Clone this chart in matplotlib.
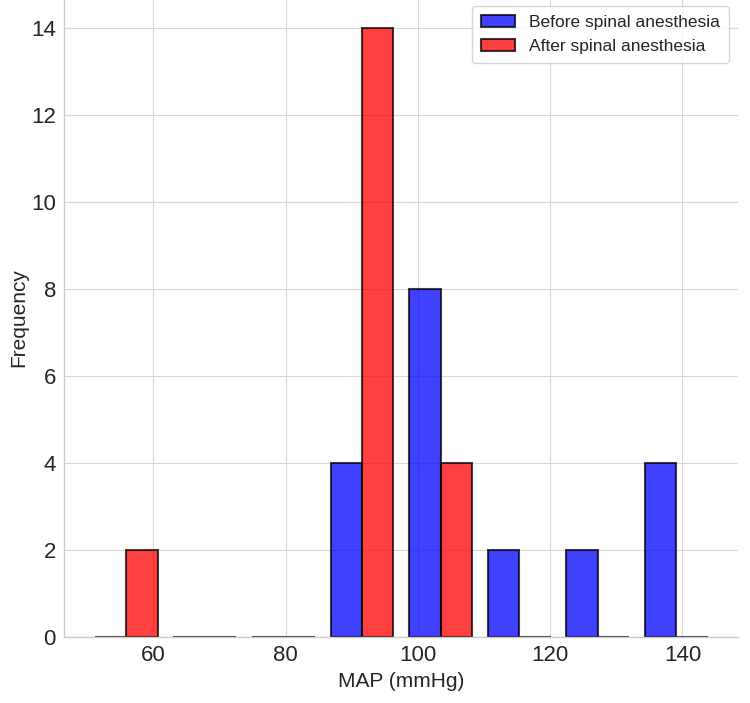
import numpy as np
import matplotlib
matplotlib.use("Agg")
import matplotlib.pyplot as plt

plt.style.use("seaborn-v0_8-whitegrid")
plt.rcParams['font.family'] = ['Liberation Sans', 'DejaVu Sans']

# Histogram bins (MAP, mmHg) and counts per bin
bin_edges = np.linspace(50, 145, 9)
before_counts = [0, 0, 0, 4, 8, 2, 2, 4]
after_counts = [2, 0, 0, 14, 4, 0, 0, 0]
labels = ["Before spinal anesthesia", "After spinal anesthesia"]
colors = ["blue", "red"]

centers = (bin_edges[:-1] + bin_edges[1:]) / 2

fig = plt.figure(figsize=(7.5, 7.03), dpi=100)
ax = fig.add_axes([64.3 / 750, 66 / 703, (738.3 - 64.3) / 750, (703 - 66 + 2) / 703])

ax.hist([centers, centers], bins=bin_edges, weights=[before_counts, after_counts],
        color=colors, label=labels, alpha=0.75, edgecolor="black", linewidth=1.5)

ax.set_xlabel("MAP (mmHg)", fontsize=15, labelpad=4)
ax.set_ylabel("Frequency", fontsize=15, labelpad=2)
ax.tick_params(axis="both", labelsize=16, colors="#262626")
ax.tick_params(axis="x", pad=6)
ax.tick_params(axis="y", pad=6)
ax.set_yticks([0, 2, 4, 6, 8, 10, 12, 14])
ax.spines["top"].set_visible(False)
ax.spines["right"].set_visible(False)
ax.spines["left"].set_color("#cccccc")
ax.spines["bottom"].set_color("#cccccc")
ax.grid(True, color="#d9d9d9", linewidth=0.8)
ax.set_axisbelow(True)

ax.legend(loc="upper right", fontsize=12.5, frameon=True, framealpha=0.8,
          edgecolor="#cccccc", borderaxespad=0.55, labelspacing=0.5,
          borderpad=0.5, handlelength=2.0, bbox_to_anchor=(1.0, 1.002))

fig.savefig("out.png", dpi=100)
